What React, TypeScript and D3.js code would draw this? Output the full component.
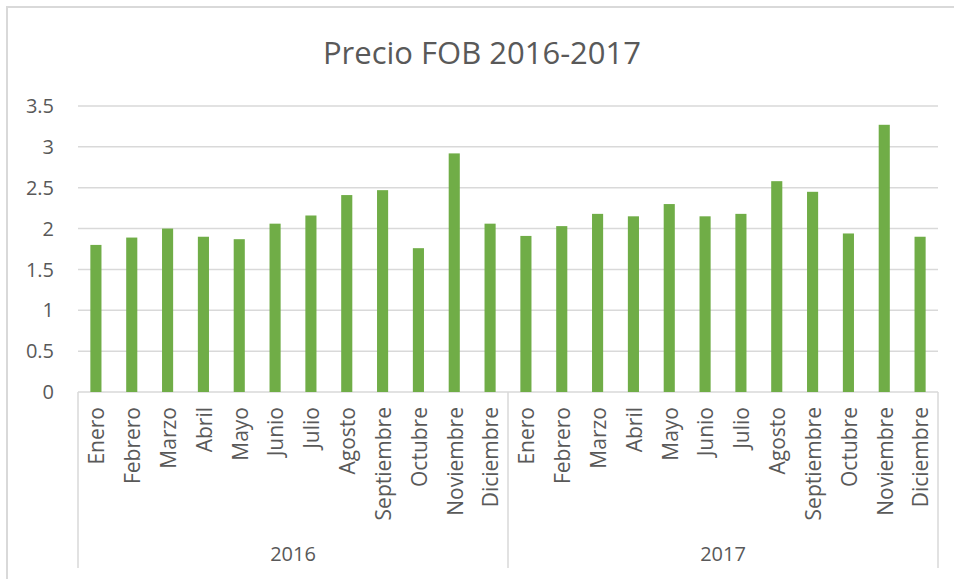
import React, { useEffect, useRef } from "react";
import * as d3 from "d3";

const years = ["2016", "2017"];
const months = [
  "Enero", "Febrero", "Marzo", "Abril", "Mayo", "Junio",
  "Julio", "Agosto", "Septiembre", "Octubre", "Noviembre", "Diciembre",
];
const values2016 = [1.8, 1.89, 2.0, 1.9, 1.87, 2.06, 2.16, 2.41, 2.47, 1.76, 2.92, 2.06];
const values2017 = [1.91, 2.03, 2.18, 2.15, 2.3, 2.15, 2.18, 2.58, 2.45, 1.94, 3.27, 1.9];
const yTicks = [0, 0.5, 1, 1.5, 2, 2.5, 3, 3.5];
const title = "Precio FOB 2016-2017";

const width = 954;
const height = 579;
const font = "'Open Sans', sans-serif";
const textColor = "#595959";
const lineColor = "#d9d9d9";
const barColor = "#70ad47";

const App = () => {
  const ref = useRef(null);

  useEffect(() => {
    const svg = d3.select(ref.current);
    svg.selectAll("*").remove();

    const rows = years.flatMap((yr, yi) =>
      months.map((m, mi) => ({
        key: yr + "-" + m,
        year: yr,
        month: m,
        value: (yi === 0 ? values2016 : values2017)[mi],
      }))
    );

    const left = 78, right = 938, top = 106, bottom = 392, axisBottom = 568;

    const x = d3
      .scaleBand()
      .domain(rows.map(d => d.key))
      .range([left, right])
      .paddingInner(0.69)
      .paddingOuter(0.345);
    const y = d3.scaleLinear().domain([0, 3.5]).range([bottom, top]);

    // chart frame
    svg.append("rect")
      .attr("x", 7).attr("y", 7)
      .attr("width", 970).attr("height", 600)
      .attr("fill", "#fff")
      .attr("stroke", lineColor)
      .attr("stroke-width", 2);

    svg.append("text")
      .attr("x", 482).attr("y", 64)
      .attr("text-anchor", "middle")
      .style("font-family", font)
      .style("font-size", "31px")
      .style("fill", textColor)
      .text(title);

    // gridlines + y labels
    const grid = svg.append("g");
    grid.selectAll("line")
      .data(yTicks)
      .enter()
      .append("line")
      .attr("x1", left).attr("x2", right)
      .attr("y1", d => y(d)).attr("y2", d => y(d))
      .attr("stroke", lineColor)
      .attr("stroke-width", 1.5);
    grid.selectAll("text")
      .data(yTicks)
      .enter()
      .append("text")
      .attr("x", 54)
      .attr("y", d => y(d))
      .attr("dy", "0.36em")
      .attr("text-anchor", "end")
      .style("font-family", font)
      .style("font-size", "20px")
      .style("fill", textColor)
      .text(d => String(d));

    svg.append("g")
      .selectAll("rect")
      .data(rows)
      .enter()
      .append("rect")
      .attr("x", d => x(d.key))
      .attr("width", x.bandwidth())
      .attr("y", d => y(d.value))
      .attr("height", d => y(0) - y(d.value))
      .attr("fill", barColor);

    // category axis (two levels)
    const axis = svg.append("g");
    const groupEdges = [left, x(rows[12].key) - (x.step() * 0.69) / 2, right];
    axis.selectAll("line.sep")
      .data(groupEdges)
      .enter()
      .append("line")
      .attr("class", "sep")
      .attr("x1", d => d).attr("x2", d => d)
      .attr("y1", bottom).attr("y2", axisBottom)
      .attr("stroke", lineColor)
      .attr("stroke-width", 1.5);

    axis.selectAll("text.month")
      .data(rows)
      .enter()
      .append("text")
      .attr("class", "month")
      .attr("text-anchor", "end")
      .attr("dy", "0.4em")
      .attr("transform", d => `translate(${x(d.key) + x.bandwidth() / 2}, 407) rotate(-90)`)
      .style("font-family", font)
      .style("font-size", "21px")
      .style("fill", textColor)
      .text(d => d.month);

    axis.selectAll("text.year")
      .data(years)
      .enter()
      .append("text")
      .attr("class", "year")
      .attr("x", (d, i) => (groupEdges[i] + groupEdges[i + 1]) / 2)
      .attr("y", 561)
      .attr("text-anchor", "middle")
      .style("font-family", font)
      .style("font-size", "20px")
      .style("fill", textColor)
      .text(d => d);
  }, []);

  return (
    <svg
      ref={ref}
      width={width}
      height={height}
      style={{ position: "absolute", left: 0, top: 0, background: "#fff" }}
    />
  );
};

export default App;
